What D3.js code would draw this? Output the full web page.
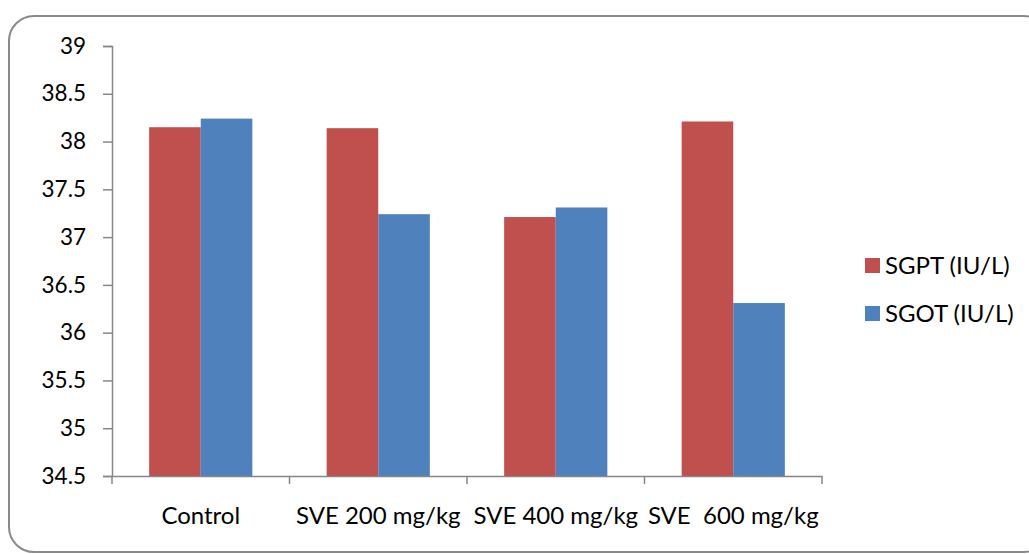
<!DOCTYPE html>
<html>
<head>
<meta charset="utf-8">
<script src="https://cdn.jsdelivr.net/npm/d3@7"></script>
<style>
  body { margin: 0; background: #fff; }
  svg text { font-family: Lato, "Open Sans", sans-serif; fill: #000; white-space: pre; }
</style>
</head>
<body>
<svg id="chart" width="1029" height="554"></svg>
<script>
const categories = ["Control", "SVE 200 mg/kg", "SVE 400 mg/kg", "SVE  600 mg/kg"];
const seriesNames = ["SGPT (IU/L)", "SGOT (IU/L)"];
const sgpt = [38.15, 38.14, 37.21, 38.21];
const sgot = [38.24, 37.24, 37.31, 36.31];
const yTicks = [34.5, 35, 35.5, 36, 36.5, 37, 37.5, 38, 38.5, 39];
const colors = ["#C0504D", "#4F81BD"];

const margin = {top: 46, right: 207, bottom: 78, left: 112};
const width = 1029, height = 554;

let svg = d3.select("#chart");

// outer rounded frame
svg.append("rect")
    .attr("x", 9).attr("y", 16)
    .attr("width", 1040).attr("height", 536)
    .attr("rx", 25).attr("ry", 25)
    .attr("fill", "none")
    .attr("stroke", "#8a8a8a")
    .attr("stroke-width", 2);

let x = d3.scaleBand()
    .domain(categories)
    .range([margin.left, width - margin.right])
    .paddingInner(0)
    .paddingOuter(0);

let xInner = d3.scaleBand()
    .domain(seriesNames)
    .range([0, x.bandwidth()])
    .paddingOuter(0.72)
    .paddingInner(0);

let y = d3.scaleLinear()
    .domain([34.5, 39])
    .range([height - margin.bottom, margin.top]);

let rows = categories.map((c, i) => ({cat: c, vals: [sgpt[i], sgot[i]]}));

let groups = svg.append("g").selectAll("g")
    .data(rows)
    .enter().append("g")
    .attr("transform", d => "translate(" + x(d.cat) + ",0)");

groups.selectAll("rect")
    .data(d => d.vals.map((v, j) => ({name: seriesNames[j], v: v, j: j})))
    .enter().append("rect")
    .attr("x", d => xInner(d.name))
    .attr("width", xInner.bandwidth())
    .attr("y", d => y(d.v))
    .attr("height", d => y(34.5) - y(d.v))
    .attr("fill", d => colors[d.j]);

// y axis
let yAxis = d3.axisLeft(y)
    .tickValues(yTicks)
    .tickFormat(d3.format(""))
    .tickSize(9)
    .tickPadding(17);

let gy = svg.append("g")
    .attr("transform", "translate(" + margin.left + ",0)")
    .call(yAxis);
gy.select(".domain").attr("stroke", "#868686").attr("stroke-width", 1.5);
gy.selectAll(".tick line").attr("stroke", "#868686").attr("stroke-width", 1.5);
gy.selectAll(".tick text").style("font-size", "22.5px");

// x axis
let xAxis = d3.axisBottom(x)
    .tickSize(0)
    .tickPadding(31);

let gx = svg.append("g")
    .attr("transform", "translate(0," + (height - margin.bottom) + ")")
    .call(xAxis);
gx.select(".domain").attr("stroke", "#868686").attr("stroke-width", 1.5);
gx.selectAll(".tick text").style("font-size", "24px");

// category boundary ticks
let bounds = categories.map(c => x(c)).concat([x(categories[categories.length - 1]) + x.bandwidth()]);
gx.selectAll(".bound")
    .data(bounds)
    .enter().append("line")
    .attr("class", "bound")
    .attr("x1", d => d).attr("x2", d => d)
    .attr("y1", 0).attr("y2", 8)
    .attr("stroke", "#868686")
    .attr("stroke-width", 1.5);

// legend
let legend = svg.append("g").attr("transform", "translate(865,258)");
let items = legend.selectAll("g")
    .data(seriesNames)
    .enter().append("g")
    .attr("transform", (d, i) => "translate(0," + (i * 48) + ")");
items.append("rect")
    .attr("width", 15).attr("height", 15)
    .attr("fill", (d, i) => colors[i]);
items.append("text")
    .attr("x", 20).attr("y", 8)
    .attr("dy", "0.35em")
    .style("font-size", "24px")
    .text(d => d);
</script>
</body>
</html>
